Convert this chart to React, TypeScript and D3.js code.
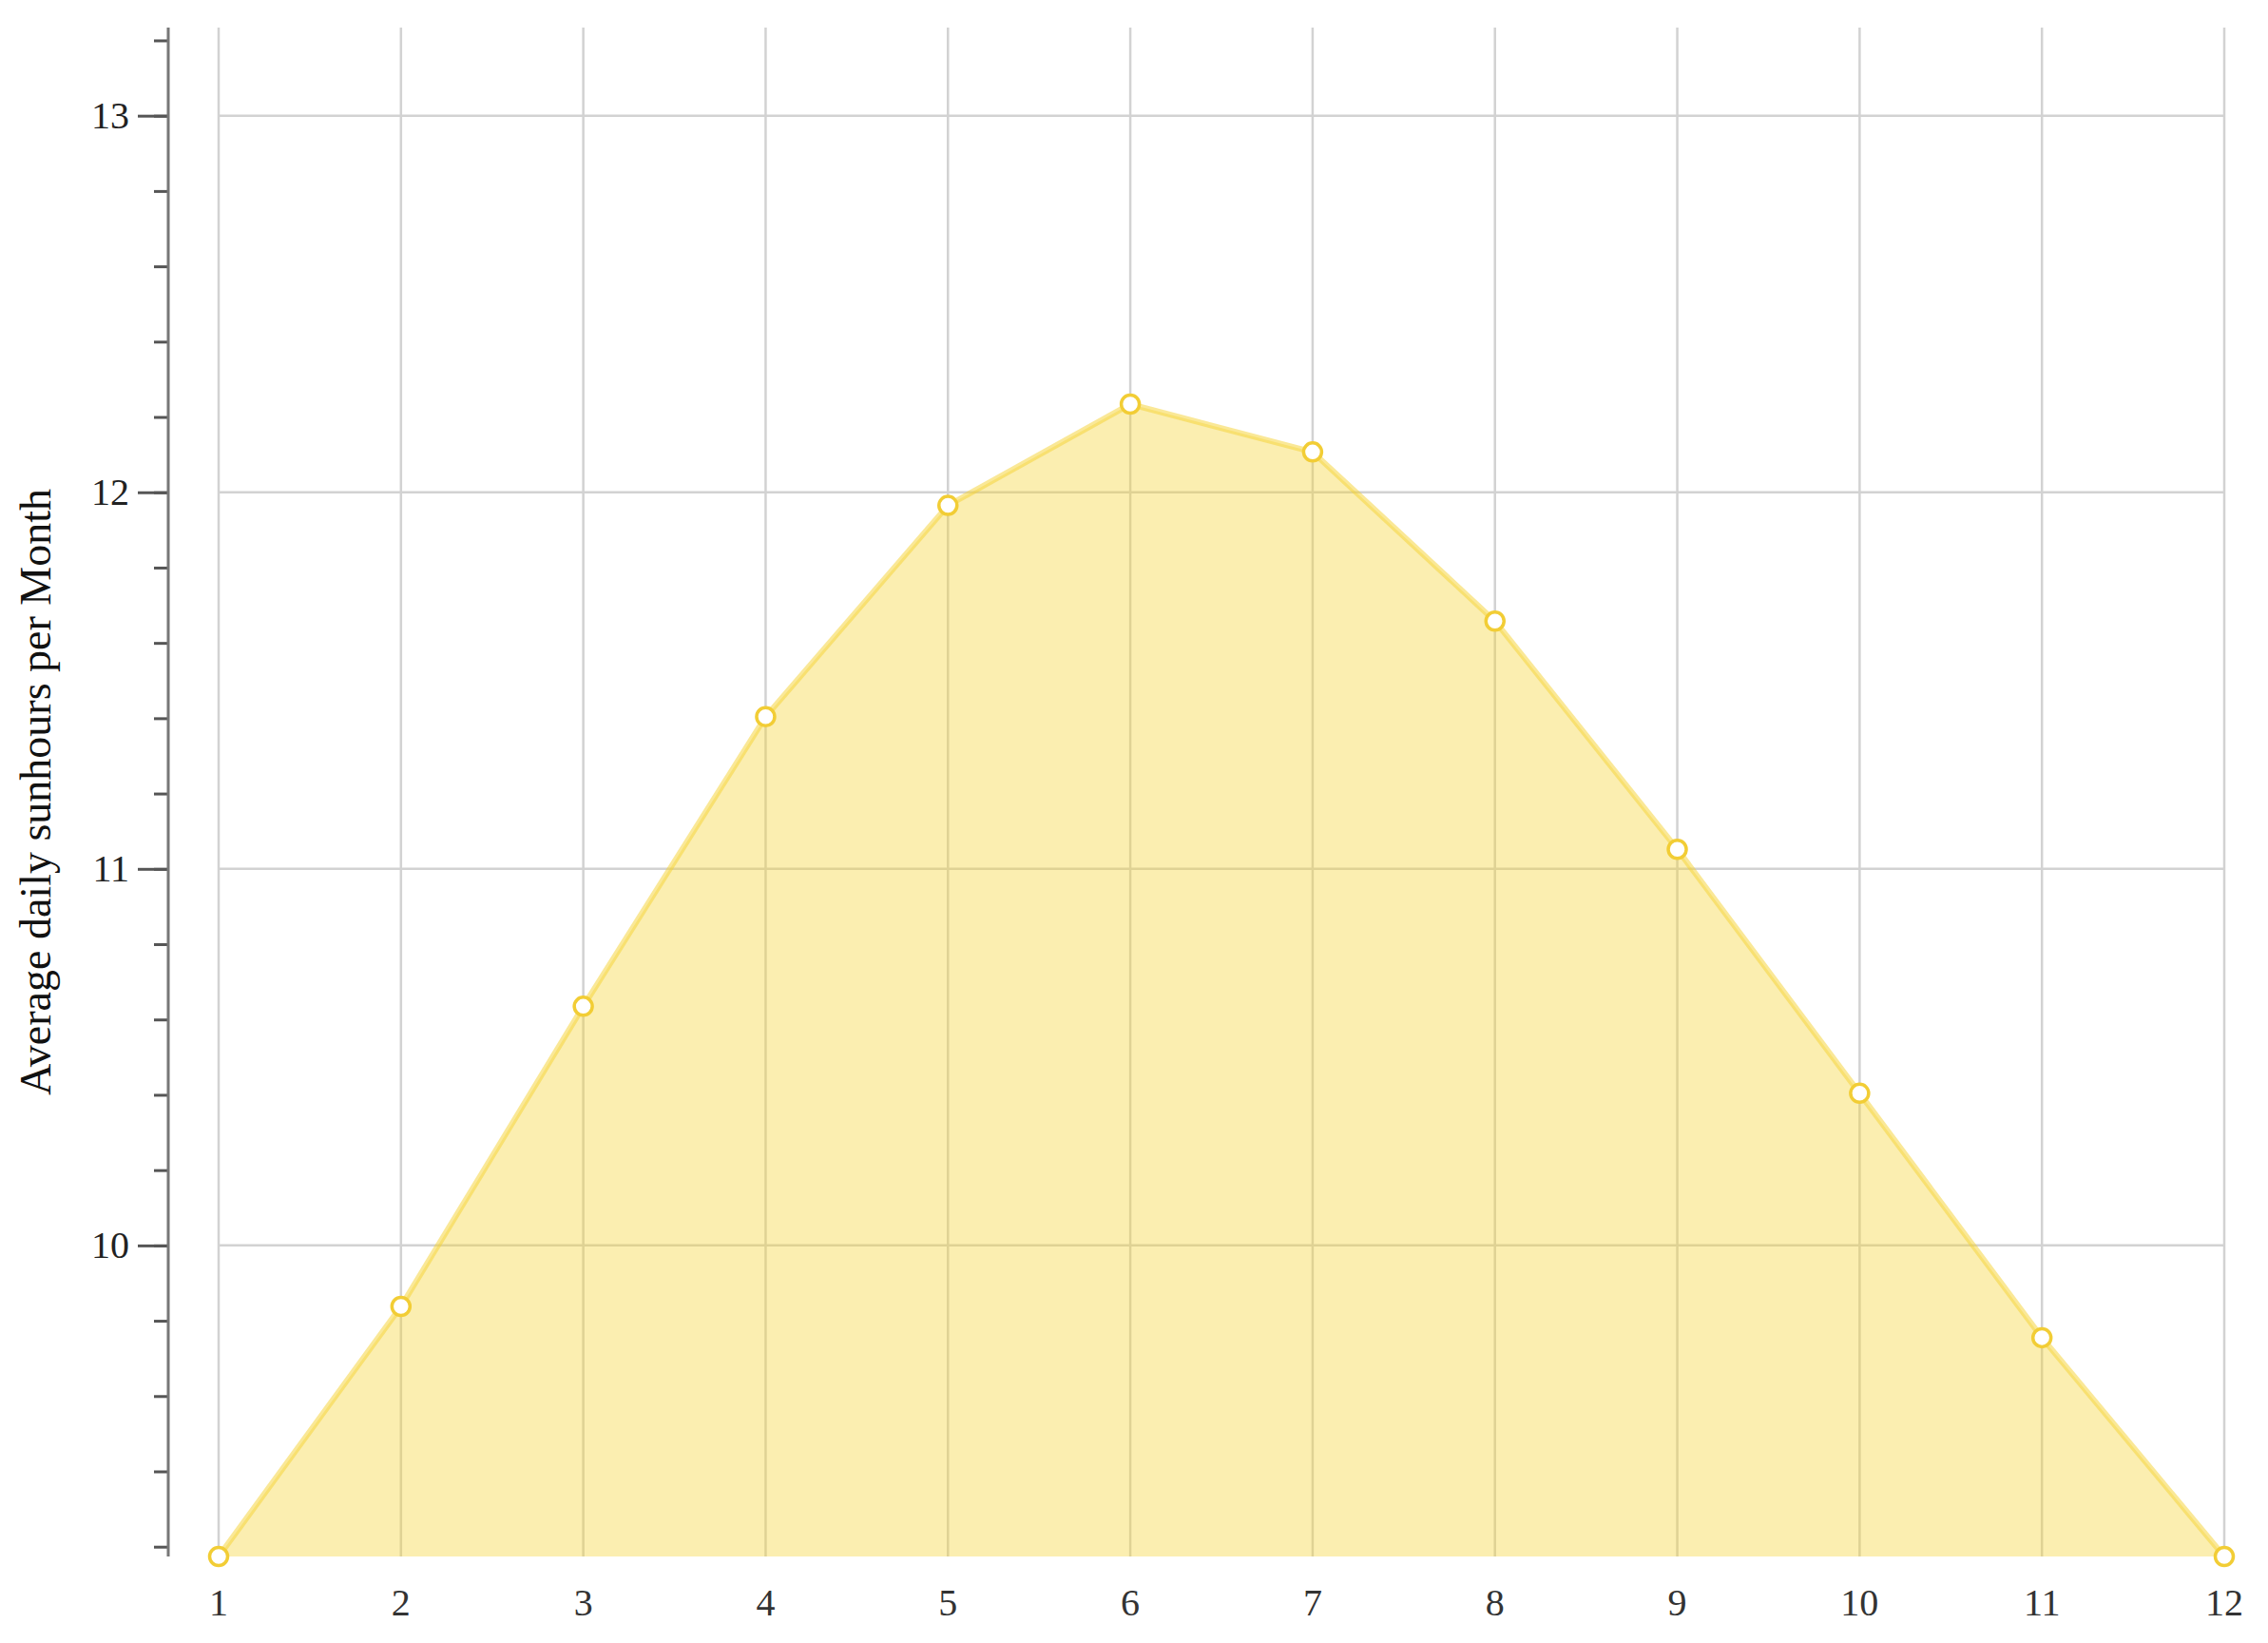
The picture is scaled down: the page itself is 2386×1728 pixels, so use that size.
import React, { useEffect, useRef } from 'react'
import * as d3 from 'd3'

const months = [1, 2, 3, 4, 5, 6, 7, 8, 9, 10, 11, 12]
const sunhours = [9.174, 9.838, 10.635, 11.404, 11.965, 12.234, 12.107, 11.658, 11.052, 10.404, 9.755, 9.174]
const yTitle = 'Average daily sunhours per Month'

export default function App(){
  const svgRef = useRef<SVGSVGElement>(null)

  useEffect(()=>{
    const width = 2386, height = 1728
    const m = {top:29,right:46,bottom:91,left:230}
    const axisX = 177
    const font = '"Liberation Serif", "Times New Roman", serif'
    const svg = d3.select(svgRef.current)
      .attr('width',width).attr('height',height)
    svg.selectAll('*').remove()

    const x = d3.scaleLinear().domain([1,12]).range([m.left, width-m.right])
    const y = d3.scaleLinear()
      .domain([d3.min(sunhours)!, d3.max(sunhours)! + 1])
      .range([height-m.bottom, m.top])

    // grid
    const grid = svg.append('g')
    grid.selectAll('line.v').data(months).join('line')
      .attr('x1',d=>x(d)).attr('x2',d=>x(d))
      .attr('y1',m.top).attr('y2',height-m.bottom)
      .attr('stroke','#d2d2d2').attr('stroke-width',2.5)
    grid.selectAll('line.h').data(y.ticks(4).filter(Number.isInteger)).join('line')
      .attr('x1',m.left).attr('x2',width-m.right)
      .attr('y1',d=>y(d)).attr('y2',d=>y(d))
      .attr('stroke','#d2d2d2').attr('stroke-width',2.5)

    const pts = months.map((mo,i)=>[mo, sunhours[i]] as [number,number])

    const area = d3.area<[number,number]>()
      .x(d=>x(d[0])).y0(height-m.bottom).y1(d=>y(d[1]))
    svg.append('path').datum(pts)
      .attr('d',area)
      .attr('fill','#f5d130').attr('fill-opacity',0.38)

    const line = d3.line<[number,number]>().x(d=>x(d[0])).y(d=>y(d[1]))
    svg.append('path').datum(pts)
      .attr('d',line)
      .attr('fill','none')
      .attr('stroke','#f5d130').attr('stroke-opacity',0.5)
      .attr('stroke-width',6)

    svg.append('g').selectAll('circle').data(pts).join('circle')
      .attr('cx',d=>x(d[0])).attr('cy',d=>y(d[1]))
      .attr('r',9.5)
      .attr('fill','#fff')
      .attr('stroke','#f2cd35').attr('stroke-width',3.5)

    // y axis: minor ticks
    const minor = svg.append('g')
      .attr('transform',`translate(${axisX},0)`)
      .call(d3.axisLeft(y).ticks(20).tickSize(15).tickFormat(()=>''))
    minor.select('.domain').remove()
    minor.selectAll('line').attr('stroke','#555').attr('stroke-width',3)

    const major = svg.append('g')
      .attr('transform',`translate(${axisX},0)`)
      .call(d3.axisLeft(y).tickValues(y.ticks(4).filter(Number.isInteger)).tickSize(32).tickPadding(9).tickFormat(d3.format('d')))
    major.select('.domain').remove()
    major.selectAll('line').attr('stroke','#555').attr('stroke-width',3)
    major.selectAll('text')
      .attr('fill','#222').attr('font-size',40).attr('font-family',font)

    svg.append('line')
      .attr('x1',axisX).attr('x2',axisX)
      .attr('y1',m.top).attr('y2',height-m.bottom)
      .attr('stroke','#777').attr('stroke-width',3)

    // x labels
    svg.append('g').selectAll('text').data(months).join('text')
      .attr('x',d=>x(d)).attr('y',1699)
      .attr('text-anchor','middle')
      .attr('fill','#333').attr('font-size',40).attr('font-family',font)
      .text(d=>d)

    svg.append('text')
      .attr('transform',`translate(53,${(m.top + height - m.bottom)/2}) rotate(-90)`)
      .attr('text-anchor','middle')
      .attr('fill','#111').attr('font-size',46).attr('font-family',font)
      .text(yTitle)
  },[])

  return (
    <svg ref={svgRef} style={{position:'absolute',left:0,top:0,background:'#fff'}}></svg>
  )
}
